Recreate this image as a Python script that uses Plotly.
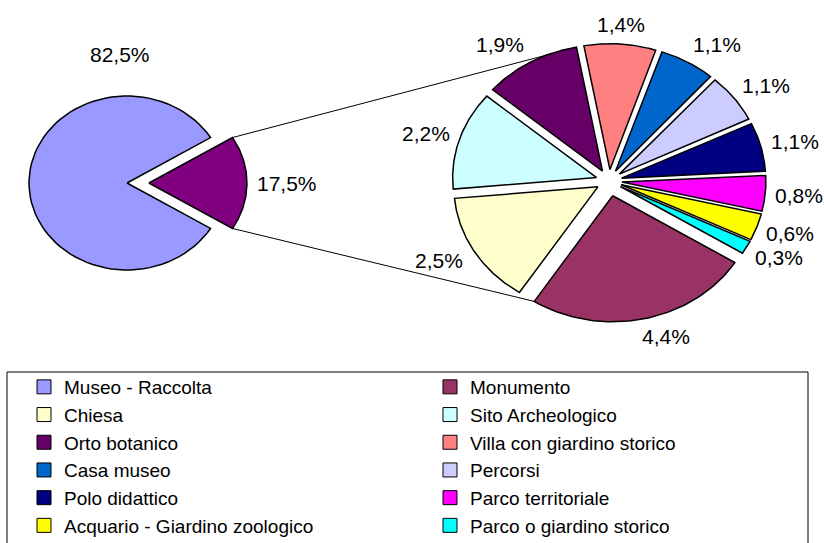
import numpy as np
import plotly.graph_objects as go

# ---------------- data ----------------
main_labels = ["Museo - Raccolta", "Altre tipologie"]
main_values = [82.5, 17.5]

detail_labels = ["Monumento", "Chiesa", "Sito Archeologico", "Orto botanico",
                 "Villa con giardino storico", "Casa museo", "Percorsi",
                 "Polo didattico", "Parco territoriale",
                 "Acquario - Giardino zoologico", "Parco o giardino storico"]
detail_values = [4.4, 2.5, 2.2, 1.9, 1.4, 1.1, 1.1, 1.1, 0.8, 0.6, 0.3]

legend_labels = ["Museo - Raccolta", "Monumento", "Chiesa", "Sito Archeologico",
                 "Orto botanico", "Villa con giardino storico", "Casa museo",
                 "Percorsi", "Polo didattico", "Parco territoriale",
                 "Acquario - Giardino zoologico", "Parco o giardino storico"]

# ---------------- style ----------------
colors = {
    "Museo - Raccolta": "#9999FF",
    "Altre tipologie": "#800080",
    "Monumento": "#993366",
    "Chiesa": "#FFFFCC",
    "Sito Archeologico": "#CCFFFF",
    "Orto botanico": "#660066",
    "Villa con giardino storico": "#FF8080",
    "Casa museo": "#0066CC",
    "Percorsi": "#CCCCFF",
    "Polo didattico": "#000080",
    "Parco territoriale": "#FF00FF",
    "Acquario - Giardino zoologico": "#FFFF00",
    "Parco o giardino storico": "#00FFFF",
}
W, H = 824, 543
FONT = "Liberation Sans, Arial, sans-serif"
LABEL_SIZE = 21
LABEL_HALF_H = 12

left = dict(cx=127, cy=183, rx=98, ry=87)
right = dict(cx=609, cy=181, rx=144, ry=126)
left_explode = {"Altre tipologie": 0.224, "Museo - Raccolta": 0.0}
right_explode_default = 0.09
right_explode = {"Monumento": 0.12}
right_start = -32.0          # degrees, slices run clockwise
label_pad = 8
label_override = {"Museo - Raccolta": (93.0, 30), "Monumento": (-70.0, 12),
                  "Chiesa": (-150.0, 10)}   # (angle, pad)


def fmt(v):
    return f"{v:.1f}".replace(".", ",") + "%"


def wedges(labels, values, start, explode_map, default_explode):
    total = float(sum(values))
    out = []
    a = start
    for lab, v in zip(labels, values):
        span = 360.0 * v / total
        a0, a1 = a, a - span
        out.append(dict(label=lab, value=v, a0=a0, a1=a1, mid=(a0 + a1) / 2,
                        ex=explode_map.get(lab, default_explode)))
        a = a1
    return out


def offset(g, w):
    m = np.radians(w["mid"])
    return g["cx"] + w["ex"] * g["rx"] * np.cos(m), g["cy"] - w["ex"] * g["ry"] * np.sin(m)


def wedge_path(g, w):
    ox, oy = offset(g, w)
    t = np.radians(np.linspace(w["a0"], w["a1"], 80))
    xs = np.concatenate([[ox], ox + g["rx"] * np.cos(t), [ox]])
    ys = np.concatenate([[oy], oy - g["ry"] * np.sin(t), [oy]])
    return xs, ys


def corner(g, w, ang):
    ox, oy = offset(g, w)
    t = np.radians(ang)
    return ox + g["rx"] * np.cos(t), oy - g["ry"] * np.sin(t)


# left pie: split slice centred on the right-hand side
left_order_labels = [main_labels[1], main_labels[0]]
left_order_values = [main_values[1], main_values[0]]
left_start = 180.0 * main_values[1] / sum(main_values)
left_w = wedges(left_order_labels, left_order_values, left_start, left_explode, 0.0)
right_w = wedges(detail_labels, detail_values, right_start, right_explode, right_explode_default)

fig = go.Figure()

# connector lines
split = left_w[0]
p_top = corner(left, split, split["a0"])
p_bot = corner(left, split, split["a1"])
orto = next(w for w in right_w if w["label"] == "Orto botanico")
mon = right_w[0]
q_top = corner(right, orto, orto["a1"])
q_bot = corner(right, mon, mon["a1"])
for p, q in [(p_top, q_top), (p_bot, q_bot)]:
    fig.add_trace(go.Scatter(x=[p[0], q[0]], y=[p[1], q[1]], mode="lines",
                             line=dict(color="black", width=1),
                             showlegend=False, hoverinfo="skip"))

annotations = []
for g, ws in [(left, left_w), (right, right_w)]:
    for w in ws:
        xs, ys = wedge_path(g, w)
        fig.add_trace(go.Scatter(x=xs, y=ys, mode="lines", fill="toself",
                                 fillcolor=colors[w["label"]],
                                 line=dict(color="black", width=1.5),
                                 name=w["label"], showlegend=False,
                                 hoveron="fills", hoverinfo="name"))
        ang, pad = label_override.get(w["label"], (w["mid"], label_pad))
        ox, oy = offset(g, w)
        t = np.radians(ang)
        c, s = np.cos(t), np.sin(t)
        ex = ox + g["rx"] * c + pad * c
        ey = oy - g["ry"] * s - pad * s - LABEL_HALF_H * s
        xa = "left" if c > 0.35 else ("right" if c < -0.35 else "center")
        annotations.append(dict(x=ex, y=ey, xref="x", yref="y", text=fmt(w["value"]),
                                showarrow=False, xanchor=xa, yanchor="middle",
                                font=dict(family=FONT, size=LABEL_SIZE, color="black")))

# legend entries
for lab in legend_labels:
    fig.add_trace(go.Scatter(x=[None], y=[None], mode="markers", name=lab,
                             marker=dict(symbol="square", size=14, color=colors[lab],
                                         line=dict(color="black", width=1)),
                             showlegend=True))

fig.update_layout(
    width=W, height=H,
    margin=dict(l=0, r=0, t=0, b=0, autoexpand=False),
    paper_bgcolor="white", plot_bgcolor="white",
    xaxis=dict(range=[0, W], visible=False, fixedrange=True),
    yaxis=dict(range=[H, 0], visible=False, fixedrange=True),
    annotations=annotations,
    showlegend=True,
    legend=dict(orientation="h", x=24 / W, xanchor="left", y=1 - 368 / H, yanchor="top",
                entrywidth=361, entrywidthmode="pixels", traceorder="normal",
                font=dict(family=FONT, size=19, color="black"),
                bgcolor="rgba(0,0,0,0)", borderwidth=0),
    shapes=[dict(type="rect", xref="x", yref="y", x0=7, x1=808, y0=372, y1=H + 20,
                 line=dict(color="black", width=1), fillcolor="rgba(0,0,0,0)", layer="below")],
)

fig.write_html("out.html", config={"displayModeBar": False},
               post_script="document.body.style.margin='0';document.body.style.padding='0';")
